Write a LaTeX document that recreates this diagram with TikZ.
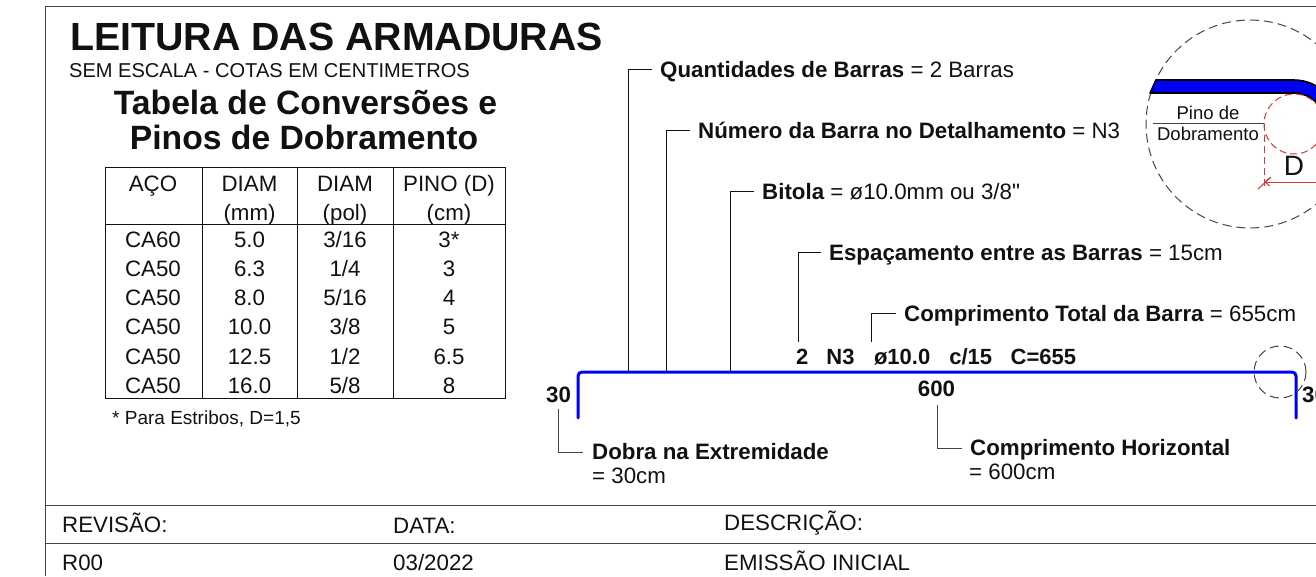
\documentclass[tikz,border=0pt]{standalone}
\usepackage{fontspec}
\setmainfont[Ligatures=TeXOff]{Liberation Sans}
\usetikzlibrary{arrows.meta}
\definecolor{ink}{HTML}{111111}
\definecolor{frm}{HTML}{444444}
\definecolor{barblue}{HTML}{0000F0}
\definecolor{pinred}{HTML}{D83838}
\newcommand{\fs}[1]{\fontsize{#1}{#1}\selectfont}
\tikzset{
  x=1pt,y=-1pt,
  txt/.style={inner sep=0pt,text=ink,font=\fs{22.3}},
  lbl/.style={txt,anchor=west,text height=16pt,text depth=0pt},
  cell/.style={txt,anchor=base},
  bnum/.style={txt,anchor=base,font=\fs{22.3}\bfseries},
  frameline/.style={frm,line width=1pt},
  tableline/.style={ink,line width=1pt},
  leader/.style={ink,line width=.9pt},
  bar/.style={barblue,line width=3pt,line cap=round,rounded corners=4pt},
  dashcirc/.style={frm,line width=1pt,dash pattern=on 9pt off 5pt},
  reddash/.style={pinred,line width=1pt,dash pattern=on 7pt off 4pt},
}
\begin{document}
\begin{tikzpicture}
\useasboundingbox (0,0) rectangle (1316,576);
\clip (0,0) rectangle (1316,576);
% frame
\coordinate (fTL) at (45,6); \coordinate (fTR) at (1316,6); \coordinate (fBL) at (45,576);
\coordinate (r1L) at (45,505); \coordinate (r1R) at (1316,505);
\coordinate (r2L) at (45,543); \coordinate (r2R) at (1316,543);
\draw[frameline] (fBL) -- (fTL) -- (fTR);
\draw[frameline] (r1L) -- (r1R);
\draw[frameline] (r2L) -- (r2R);
% titles
\node[txt,anchor=base west,font=\fs{39.3}\bfseries] (title) at (70,50) {LEITURA DAS ARMADURAS};
\node[txt,anchor=base west,font=\fs{20.05}] (sub) at (69,77) {SEM ESCALA - COTAS EM CENTIMETROS};
\node[txt,anchor=base,font=\fs{33.7}\bfseries] (t1) at (305.5,114) {Tabela de Conversões e};
\node[txt,anchor=base,font=\fs{33.7}\bfseries] (t2) at (304,149) {Pinos de Dobramento};
% table
\coordinate (tTL) at (105,167); \coordinate (tBR) at (505,398);
\draw[tableline] (tTL) rectangle (tBR);
\foreach \x/\n in {202/a,297/b,393/c}{
  \coordinate (v\n t) at (\x,167); \coordinate (v\n b) at (\x,398);
  \draw[tableline] (v\n t) -- (v\n b);
}
\coordinate (hL) at (105,224); \coordinate (hR) at (505,224);
\draw[tableline] (hL) -- (hR);
\node[cell] (h1) at (153,191) {AÇO};
\node[cell] (h2) at (249.5,191) {DIAM};
\node[cell] (h3) at (345,191) {DIAM};
\node[cell] (h4) at (449,191) {PINO (D)};
\node[cell] (h2b) at (249.5,220) {(mm)};
\node[cell] (h3b) at (345,220) {(pol)};
\node[cell] (h4b) at (449,220) {(cm)};
\foreach \y/\a/\b/\c/\d [count=\i] in {
  247/CA60/5.0/3\slash 16/3*,
  276/CA50/6.3/1\slash 4/3,
  305/CA50/8.0/5\slash 16/4,
  334.5/CA50/10.0/3\slash 8/5,
  364/CA50/12.5/1\slash 2/6.5,
  393/CA50/16.0/5\slash 8/8}{
  \node[cell] (ra\i) at (153,\y) {\a};
  \node[cell] (rb\i) at (249.5,\y) {\b};
  \node[cell] (rc\i) at (345,\y) {\c};
  \node[cell] (rd\i) at (449,\y) {\d};
}
\node[txt,anchor=base west,font=\fs{19}] (note) at (112,424) {* Para Estribos, D=1,5};
% bar
\coordinate (bL) at (578,418); \coordinate (bLc) at (578,372);
\coordinate (bRc) at (1296,372); \coordinate (bR) at (1296,418);
\draw[bar] (bL) -- (bLc) -- (bRc) -- (bR);
\coordinate (scC) at (1280,372);
\draw[dashcirc] (scC) circle (26);
% labels
\node[lbl] (q1) at (660,69) {\textbf{Quantidades de Barras} = 2 Barras};
\node[lbl] (q2) at (698,130) {\textbf{Número da Barra no Detalhamento} = N3};
\node[lbl] (q3) at (762,191.3) {\textbf{Bitola} = ø10.0mm ou 3/8"};
\node[lbl] (q4) at (829,252.4) {\textbf{Espaçamento entre as Barras} = 15cm};
\node[lbl] (q5) at (904,313.5) {\textbf{Comprimento Total da Barra} = 655cm};
\node[txt,anchor=base west,font=\fs{22}\bfseries] (code) at (796,364.5) {2\hspace{18pt}N3\hspace{19.5pt}ø10.0\hspace{19pt}c/15\hspace{18.5pt}C=655};
\node[bnum] (n600) at (936.5,396.5) {600};
\node[bnum] (n30l) at (558.5,402) {30};
\node[bnum,anchor=base west] (n30r) at (1302,402) {30};
\node[txt,anchor=base west,font=\fs{22.3}\bfseries] (d1) at (592,459) {Dobra na Extremidade};
\node[txt,anchor=base west] (d2) at (592,483) {= 30cm};
\node[txt,anchor=base west,font=\fs{22.3}\bfseries] (c1) at (970,455) {Comprimento Horizontal};
\node[txt,anchor=base west] (c2) at (969,479) {= 600cm};
% leaders
\coordinate (l1) at (628,372); \coordinate (l2) at (666,372); \coordinate (l3) at (730,372);
\coordinate (l4) at (798,342); \coordinate (l5) at (871,342);
\coordinate (l6) at (558,409); \coordinate (l6e) at (583,452);
\coordinate (l7) at (937,405); \coordinate (l7e) at (962,448);
\draw[leader] (l1) |- ([xshift=-8pt]q1.west);
\draw[leader] (l2) |- ([xshift=-8pt]q2.west);
\draw[leader] (l3) |- ([xshift=-8pt]q3.west);
\draw[leader] (l4) |- ([xshift=-8pt]q4.west);
\draw[leader] (l5) |- ([xshift=-8pt]q5.west);
\draw[leader,frm] (l6) |- (l6e);
\draw[leader,frm] (l7) |- (l7e);
% detail circle
\coordinate (dC) at (1250,124);
\draw[dashcirc] (dC) circle (104);
\coordinate (pC) at (1294,124);
\draw[black,line width=1.6pt,fill=barblue,line join=round]
  (1150,93) -- (1156,80) -- (1294,80) arc[start angle=90,end angle=0,radius=44pt]
  -- (1325,124) arc[start angle=0,end angle=90,radius=31pt] -- cycle;
\draw[reddash] (pC) circle (30);
\coordinate (pinL) at (1153,123); \coordinate (pinR) at (1264,123);
\draw[frm,line width=1pt] (pinL) -- (pinR);
\node[txt,anchor=base,font=\fs{18.5}] (pin1) at (1208,119) {Pino de};
\node[txt,anchor=base,font=\fs{18.5}] (pin2) at (1208,140) {Dobramento};
\node[txt,anchor=base,font=\fs{28}] (dD) at (1294,175) {D};
\coordinate (vT) at (1264,124); \coordinate (vB) at (1264,190);
\draw[reddash] (vT) -- (vB);
\coordinate (aL) at (1264,182); \coordinate (aR) at (1320,182);
\draw[pinred,line width=1pt,-{Straight Barb[length=5pt,width=8pt]}] (aR) -- (aL);
\coordinate (tk1) at (1258,189); \coordinate (tk2) at (1271,177);
\draw[pinred,line width=1pt] (tk1) -- (tk2);
% footer
\node[txt,anchor=base west] (f1) at (62,532) {REVISÃO:};
\node[txt,anchor=base west] (f2) at (393,533) {DATA:};
\node[txt,anchor=base west] (f3) at (724,530) {DESCRIÇÃO:};
\node[txt,anchor=base west] (f4) at (62,570) {R00};
\node[txt,anchor=base west] (f5) at (393,570) {03/2022};
\node[txt,anchor=base west] (f6) at (724,570) {EMISSÃO INICIAL};
\end{tikzpicture}
\end{document}
